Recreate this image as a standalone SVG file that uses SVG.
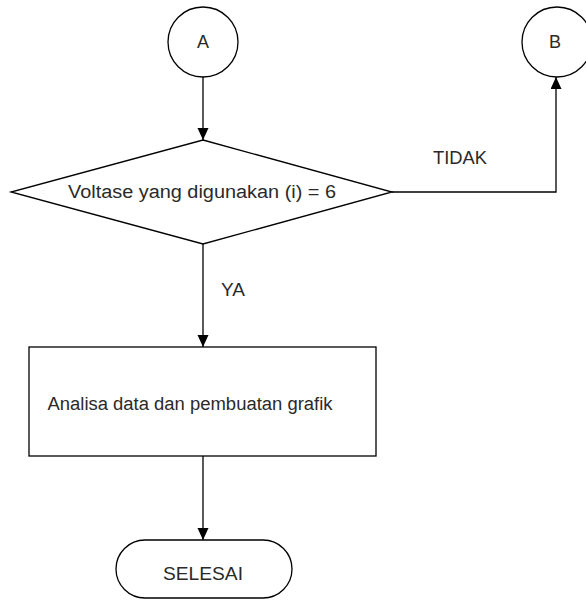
<svg xmlns="http://www.w3.org/2000/svg" width="586" height="611" viewBox="0 0 586 611">
<defs>
<marker id="arr" markerWidth="13" markerHeight="12" refX="12" refY="5.5" orient="auto" markerUnits="userSpaceOnUse">
<path d="M0,0 L12,5.5 L0,11 Z" fill="#000"/>
</marker>
<style>
.s{fill:#fff;stroke:#000;stroke-width:1.3}
.c{fill:none;stroke:#000;stroke-width:1.3}
.t{font-family:"Liberation Sans",Arial,sans-serif;font-size:18px;fill:#2a2a2a;text-anchor:middle}
</style>
</defs>
<rect width="586" height="611" fill="#fff"/>
<g id="connectors">
<line class="c" x1="203" y1="77" x2="203" y2="140" marker-end="url(#arr)"/>
<polyline class="c" points="392,192 556,192 556,77" marker-end="url(#arr)"/>
<line class="c" x1="203" y1="244" x2="203" y2="347" marker-end="url(#arr)"/>
<line class="c" x1="203" y1="456" x2="203" y2="540" marker-end="url(#arr)"/>
<text class="t" x="460" y="164" textLength="54" lengthAdjust="spacingAndGlyphs">TIDAK</text>
<text class="t" x="233" y="296" textLength="24" lengthAdjust="spacingAndGlyphs">YA</text>
</g>
<g id="A">
<circle class="s" cx="203" cy="42" r="35"/>
<text class="t" x="203" y="48">A</text>
</g>
<g id="B">
<circle class="s" cx="557" cy="42" r="35"/>
<text class="t" x="555" y="48">B</text>
</g>
<g id="decision">
<polygon class="s" points="203,140 392,192 203,244 11,192"/>
<text class="t" x="202" y="198" textLength="268" lengthAdjust="spacingAndGlyphs">Voltase yang digunakan (i) = 6</text>
</g>
<g id="process">
<rect class="s" x="29" y="347" width="347" height="109"/>
<text class="t" x="190" y="410" textLength="285" lengthAdjust="spacingAndGlyphs">Analisa data dan pembuatan grafik</text>
</g>
<g id="selesai">
<rect class="s" x="116" y="540" width="176" height="58" rx="29" ry="29"/>
<text class="t" x="203" y="580" textLength="80" lengthAdjust="spacingAndGlyphs">SELESAI</text>
</g>
</svg>
